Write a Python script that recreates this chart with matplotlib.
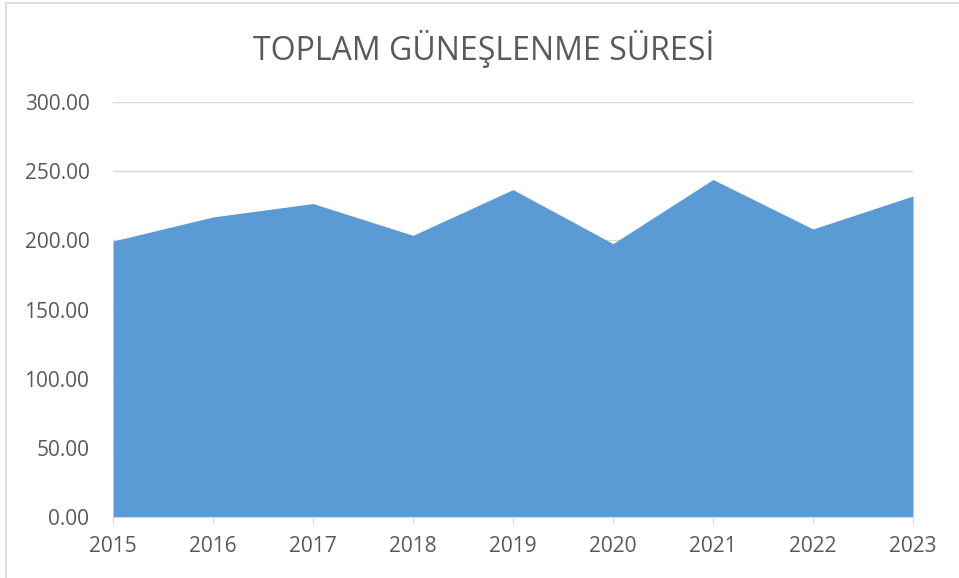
import matplotlib.pyplot as plt
from matplotlib.lines import Line2D
from matplotlib.ticker import FormatStrFormatter

# datos
yillar = [2015, 2016, 2017, 2018, 2019, 2020, 2021, 2022, 2023]
gunes = [199.5, 216.9, 226.6, 203.6, 236.7, 197.6, 244.0, 208.2, 232.1]
y_ticks = [0, 50, 100, 150, 200, 250, 300]

plt.rcParams['font.family'] = ['Open Sans', 'DejaVu Sans']
gris = '#595959'

fig = plt.figure(figsize=(9.59, 5.78), dpi=100)
ax = fig.add_axes([113/959, 61/578, 800/959, 415/578])

ax.fill_between(yillar, gunes, 0, color='#5B9BD5', linewidth=0, zorder=2)

ax.set_xlim(yillar[0], yillar[-1])
ax.set_ylim(0, 300)
ax.set_yticks(y_ticks)
ax.yaxis.set_major_formatter(FormatStrFormatter('%.2f'))
ax.set_xticks(yillar)
ax.grid(axis='y', color='#d9d9d9', linewidth=1, zorder=1)

for s in ['top', 'right', 'left']:
    ax.spines[s].set_visible(False)
ax.spines['bottom'].set_color('#d9d9d9')
ax.tick_params(axis='y', length=0, labelsize=15, labelcolor=gris, pad=17)
ax.tick_params(axis='x', length=5, color='#d9d9d9', labelsize=15, labelcolor=gris, pad=9)

fig.text(484/959, 1 - 49/578, 'TOPLAM GÜNEŞLENME SÜRESİ', ha='center', va='center',
         fontsize=23, color=gris)

# borde del grafico
fig.add_artist(Line2D([6/959, 6/959], [0, 1 - 3/578], color='#d9d9d9', linewidth=1.2,
                      transform=fig.transFigure))
fig.add_artist(Line2D([6/959, 1], [1 - 3/578, 1 - 3/578], color='#d9d9d9', linewidth=1.2,
                      transform=fig.transFigure))

fig.savefig('out.png', dpi=100)
